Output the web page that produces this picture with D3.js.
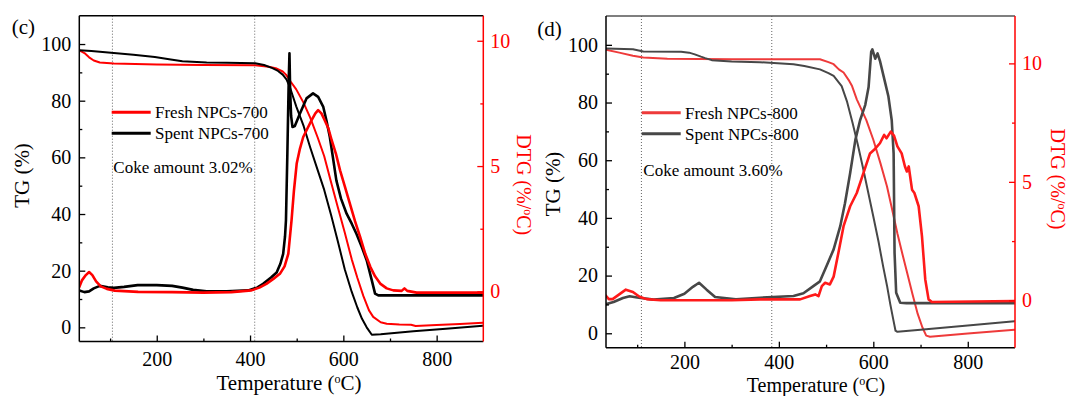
<!DOCTYPE html>
<html><head><meta charset="utf-8">
<script src="https://cdn.jsdelivr.net/npm/d3@7"></script>
<style>
body{margin:0;background:#fff}
svg{display:block}
svg text{font-family:"Liberation Serif","Times New Roman",serif}
</style>
</head><body>
<svg id="chart" width="1068" height="396"></svg>
<script>
// ---------------- data ----------------
const xMajorTicks = [200, 400, 600, 800];
const xMinorTicks = [100, 300, 500, 700];
const tgMajorTicks = [0, 20, 40, 60, 80, 100];
const tgMinorTicks = [10, 30, 50, 70, 90];
const dtgMajorTicks = [0, 5, 10];
const dtgMinorTicks = [2.5, 7.5];

const seriesNamesC = ["Fresh NPCs-700", "Spent NPCs-700"];
const seriesNamesD = ["Fresh NPCs-800", "Spent NPCs-800"];
const cokeC = "Coke amount 3.02%";
const cokeD = "Coke amount 3.60%";
const guideTempsC = [105, 410];
const guideTempsD = [109, 385];

// panel (c) : [temperature °C, value]
const c_freshTG = [[34,97.8],[45,96.8],[55,95.3],[65,94.2],[78,93.5],[108,93.1],[200,92.8],[300,92.6],[411,92.5],[440,92.0],[455,91.5],[470,90.3],[477,89.2],[488,86.5],[499,84],[514,79.5],[529,74],[545,67],[559,60.4],[574,51],[588,42.5],[603,33.5],[618,24],[630,17.5],[643,11],[655,6],[664,3.7],[680,1.8],[693,1.3],[720,1.0],[745,0.9],[755,0.5],[800,0.8],[850,1.2],[899,1.6]];
const c_spentTG = [[34,97.8],[60,97.5],[108,96.8],[150,96.2],[196,95.4],[230,94.5],[255,93.9],[307,93.5],[350,93.4],[411,93.2],[430,92.6],[448,91.5],[460,90.5],[470,89.2],[478,87.5],[485,85.0],[492,81.5],[499,78],[515,71],[529,63.5],[545,55.5],[559,48.5],[574,39.5],[588,30.5],[603,20.5],[618,12.5],[630,7.0],[640,3.0],[650,0],[661,-2.6],[680,-2.4],[750,-1.4],[820,-0.5],[899,0.6]];
const c_freshDTG = [[34,0.17],[40,0.45],[48,0.65],[55,0.77],[62,0.65],[70,0.4],[80,0.2],[93,0.1],[110,0.03],[160,-0.02],[233,-0.03],[300,-0.05],[360,-0.03],[403,0.04],[420,0.15],[435,0.3],[450,0.5],[464,0.7],[474,1.0],[482,1.5],[489,2.84],[494,4.0],[500,5.1],[507,5.7],[514,6.16],[523,6.5],[532,6.83],[540,7.1],[546,7.23],[553,7.1],[560,6.83],[568,6.5],[575,6.03],[584,5.5],[593,4.83],[603,4.2],[614,3.5],[625,2.8],[636,2.17],[647,1.5],[658,0.97],[668,0.6],[679,0.31],[693,0.12],[707,0.04],[725,0.02],[731,0.12],[737,0.02],[757,-0.05],[899,-0.05]];
const c_spentDTG = [[34,0.04],[45,-0.03],[55,0.0],[65,0.12],[78,0.22],[95,0.16],[108,0.14],[130,0.18],[159,0.25],[200,0.25],[233,0.22],[255,0.15],[278,0.06],[307,0.0],[350,0.0],[396,0.04],[415,0.15],[428,0.3],[445,0.55],[457,0.75],[465,1.1],[471,1.5],[475,2.2],[477,2.84],[480,5.5],[483,8.5],[484.5,9.5],[486,8.0],[488,7.0],[491,6.56],[496,6.6],[507,7.1],[521,7.7],[535,7.9],[546,7.76],[557,7.36],[564,6.8],[571,6.16],[578,5.3],[585,4.43],[595,3.7],[607,3.1],[618,2.7],[628,2.3],[640,1.75],[650,1.24],[661,0.44],[668,-0.09],[675,-0.16],[899,-0.16]];

// panel (d)
const d_freshTG = [[34,98.3],[62,97.3],[91,96.2],[113,95.6],[164,95.2],[300,95.0],[487,95.0],[505,94.0],[516,93.3],[527,91.5],[537,90.4],[549,87.5],[555,85.7],[565,81.1],[585,74],[600,67.1],[615,59],[629,50.9],[640,42.8],[651,34.6],[662,27.2],[672,20.7],[683,13.5],[694,6.7],[704,2],[712,-0.8],[720,-1.2],[800,-0.1],[899,1.2]];
const d_spentTG = [[34,98.7],[91,98.5],[113,97.7],[193,97.6],[210,97.3],[222,96.7],[235,95.9],[244,95.4],[258,94.7],[300,94.2],[360,94.0],[431,93.3],[454,92.7],[487,91.5],[505,90.2],[516,89.2],[533,85.7],[544,80.5],[556,73],[567,65.5],[578,57.5],[589,49],[600,40.5],[611,31.8],[621,23],[629,16.5],[636,10],[642,5],[647,0.9],[651,0.5],[700,1.2],[800,2.7],[899,4.2]];
const d_freshDTG = [[33,0.21],[40,0.05],[48,0.05],[62,0.25],[76,0.45],[91,0.35],[105,0.15],[120,0.05],[150,0.0],[300,0.0],[360,0.04],[445,0.04],[466,0.18],[477,0.25],[484,0.18],[491,0.6],[498,0.74],[508,0.67],[516,1.0],[526,2.0],[537,3.13],[551,3.97],[565,4.53],[579,5.37],[593,6.2],[604,6.4],[614,6.63],[623,6.98],[628,6.84],[637,7.12],[644,6.94],[651,6.5],[660,6.2],[667,5.65],[671,5.44],[675,5.65],[682,4.67],[687,4.53],[696,3.97],[703,2.71],[710,0.88],[717,0.04],[724,-0.07],[899,-0.03]];
const d_spentDTG = [[33,-0.17],[50,-0.07],[70,0.1],[84,0.17],[100,0.12],[135,0.03],[178,0.1],[200,0.28],[218,0.57],[231,0.74],[247,0.45],[265,0.14],[309,0.04],[360,0.11],[431,0.18],[452,0.3],[473,0.6],[487,0.8],[501,1.45],[516,2.15],[530,3.13],[540,4.1],[551,5.37],[562,6.77],[572,7.6],[583,8.25],[590,9.0],[595.5,10.49],[598,10.59],[604,10.2],[609,10.42],[614.5,10.07],[622,9.44],[632,8.6],[639,7.6],[643,6.2],[645,2.0],[648.4,0.32],[657,-0.1],[670,-0.12],[899,-0.12]];

// ---------------- layout ----------------
const FONT = '"Liberation Serif","Times New Roman",serif';
const svg = d3.select("#chart");
const panels = [
  {label:"(c)", labelX:11.7, labelY:33.5, left:79.3, right:483.3, top:15.7, bottom:341.5,
   xDom:[34,900], tgDom:[-5,110], dtgDom:[-2,11], names:seriesNamesC, coke:cokeC, guides:guideTempsC,
   fresh:[c_freshTG,c_freshDTG], spent:[c_spentTG,c_spentDTG],
   freshColor:"#ff0000", freshTGColor:"#ff0000", spentColor:"#000000", topColor:"#000",
   legX:111.7, legY1:112.3, legY2:133.3, cokeY:172.7,
   tgLab:[29.3,175.5], dtgLab:[516.5,184.7], xLab:[289,390], xPad:10, xLabSize:21},
  {label:"(d)", labelX:537.3, labelY:35.5, left:606, right:1015, top:16, bottom:347.7,
   xDom:[34,900], tgDom:[-5,110], dtgDom:[-2,12], names:seriesNamesD, coke:cokeD, guides:guideTempsD,
   fresh:[d_freshTG,d_freshDTG], spent:[d_spentTG,d_spentDTG],
   freshColor:"#ff1a1a", freshTGColor:"#ee3a3a", spentColor:"#474747", topColor:"#555",
   legX:641.7, legY1:112.7, legY2:133.7, cokeY:176,
   tgLab:[560.2,184], dtgLab:[1050.5,179], xLab:[816,391.5], xPad:7, xLabSize:20}
];

function supText(sel, before, after){
  sel.append("tspan").text(before);
  sel.append("tspan").attr("font-size","12px").attr("dy","-7").text("o");
  sel.append("tspan").attr("dy","7").text(after);
}

panels.forEach((p,i)=>{
  const x = d3.scaleLinear().domain(p.xDom).range([p.left,p.right]);
  const yL = d3.scaleLinear().domain(p.tgDom).range([p.bottom,p.top]);
  const yR = d3.scaleLinear().domain(p.dtgDom).range([p.bottom,p.top]);
  const g = svg.append("g").attr("font-family",FONT);
  const clipId = "clip"+i;
  svg.append("clipPath").attr("id",clipId).append("rect")
     .attr("x",p.left).attr("y",p.top).attr("width",p.right-p.left).attr("height",p.bottom-p.top);

  // dotted guide lines
  g.selectAll(".guide").data(p.guides).join("line")
    .attr("x1",d=>x(d)).attr("x2",d=>x(d)).attr("y1",p.top).attr("y2",p.bottom)
    .attr("stroke","#666").attr("stroke-width",1).attr("stroke-dasharray","1,2");

  const lineL = d3.line().x(d=>x(d[0])).y(d=>yL(d[1]));
  const lineR = d3.line().x(d=>x(d[0])).y(d=>yR(d[1]));
  const cg = g.append("g").attr("clip-path",`url(#${clipId})`).attr("fill","none")
             .attr("stroke-linejoin","round").attr("stroke-linecap","round");
  cg.append("path").attr("d",lineL(p.fresh[0])).attr("stroke",p.freshTGColor).attr("stroke-width",2);
  cg.append("path").attr("d",lineL(p.spent[0])).attr("stroke",p.spentColor).attr("stroke-width",2);
  cg.append("path").attr("d",lineR(p.spent[1])).attr("stroke",p.spentColor).attr("stroke-width",2.6);
  cg.append("path").attr("d",lineR(p.fresh[1])).attr("stroke",p.freshColor).attr("stroke-width",2.6);

  // axes
  const axB = g.append("g").attr("transform",`translate(0,${p.bottom})`)
     .call(d3.axisBottom(x).tickValues(xMajorTicks).tickSize(-6).tickPadding(p.xPad).tickFormat(d3.format("d")));
  const axBm = g.append("g").attr("transform",`translate(0,${p.bottom})`)
     .call(d3.axisBottom(x).tickValues(xMinorTicks).tickSize(-3).tickFormat(""));
  const axL = g.append("g").attr("transform",`translate(${p.left},0)`)
     .call(d3.axisLeft(yL).tickValues(tgMajorTicks).tickSize(-6).tickPadding(8).tickFormat(d3.format("d")));
  const axLm = g.append("g").attr("transform",`translate(${p.left},0)`)
     .call(d3.axisLeft(yL).tickValues(tgMinorTicks).tickSize(-3).tickFormat(""));
  const axR = g.append("g").attr("transform",`translate(${p.right},0)`)
     .call(d3.axisRight(yR).tickValues(dtgMajorTicks).tickSize(-6).tickPadding(7).tickFormat(d3.format("d")));
  const axRm = g.append("g").attr("transform",`translate(${p.right},0)`)
     .call(d3.axisRight(yR).tickValues(dtgMinorTicks).tickSize(-3).tickFormat(""));
  [axB,axBm,axL,axLm,axR,axRm].forEach(a=>{
    a.select(".domain").remove();
    a.attr("font-family",FONT).attr("font-size",null);
    a.selectAll("text").attr("font-size","20px").attr("font-family",FONT);
  });
  [axB,axBm,axL,axLm].forEach(a=>a.selectAll("line").attr("stroke","#000").attr("stroke-width",1.3));
  [axB,axL].forEach(a=>a.selectAll("text").attr("fill","#000"));
  [axR,axRm].forEach(a=>{a.selectAll("line").attr("stroke","#ff0000").attr("stroke-width",1.3);
                         a.selectAll("text").attr("fill","#ff0000");});

  // frame
  g.append("line").attr("x1",p.left).attr("x2",p.right).attr("y1",p.top).attr("y2",p.top)
    .attr("stroke",p.topColor).attr("stroke-width",1.5);
  g.append("line").attr("x1",p.left).attr("x2",p.right).attr("y1",p.bottom).attr("y2",p.bottom)
    .attr("stroke","#000").attr("stroke-width",1.5);
  g.append("line").attr("x1",p.left).attr("x2",p.left).attr("y1",p.top).attr("y2",p.bottom)
    .attr("stroke","#000").attr("stroke-width",1.5);
  g.append("line").attr("x1",p.right).attr("x2",p.right).attr("y1",p.top).attr("y2",p.bottom)
    .attr("stroke","#ff0000").attr("stroke-width",1.5);

  // legend
  const lg = g.append("g");
  [[p.names[0],p.freshTGColor,p.legY1],[p.names[1],p.spentColor,p.legY2]].forEach(([n,c,y])=>{
    lg.append("line").attr("x1",p.legX).attr("x2",p.legX+39).attr("y1",y).attr("y2",y)
      .attr("stroke",c).attr("stroke-width",3);
    lg.append("text").attr("x",p.legX+43.3).attr("y",y+6).attr("font-size","17px").attr("fill","#000").text(n);
  });
  g.append("text").attr("x",p.legX+1.6).attr("y",p.cokeY).attr("font-size","17px").attr("fill","#000").text(p.coke);

  // panel label
  g.append("text").attr("x",p.labelX).attr("y",p.labelY).attr("font-size","21px").text(p.label);

  // axis titles
  g.append("text").attr("transform",`translate(${p.tgLab[0]},${p.tgLab[1]}) rotate(-90)`)
    .attr("text-anchor","middle").attr("font-size","21px").attr("fill","#000").text("TG (%)");
  const dl = g.append("text").attr("transform",`translate(${p.dtgLab[0]},${p.dtgLab[1]}) rotate(90)`)
    .attr("text-anchor","middle").attr("font-size","20px").attr("fill","#ff0000");
  supText(dl,"DTG (%/","C)");
  const xl = g.append("text").attr("x",p.xLab[0]).attr("y",p.xLab[1])
    .attr("text-anchor","middle").attr("font-size",p.xLabSize+"px").attr("fill","#000");
  supText(xl,"Temperature (","C)");
});
</script>
</body></html>
